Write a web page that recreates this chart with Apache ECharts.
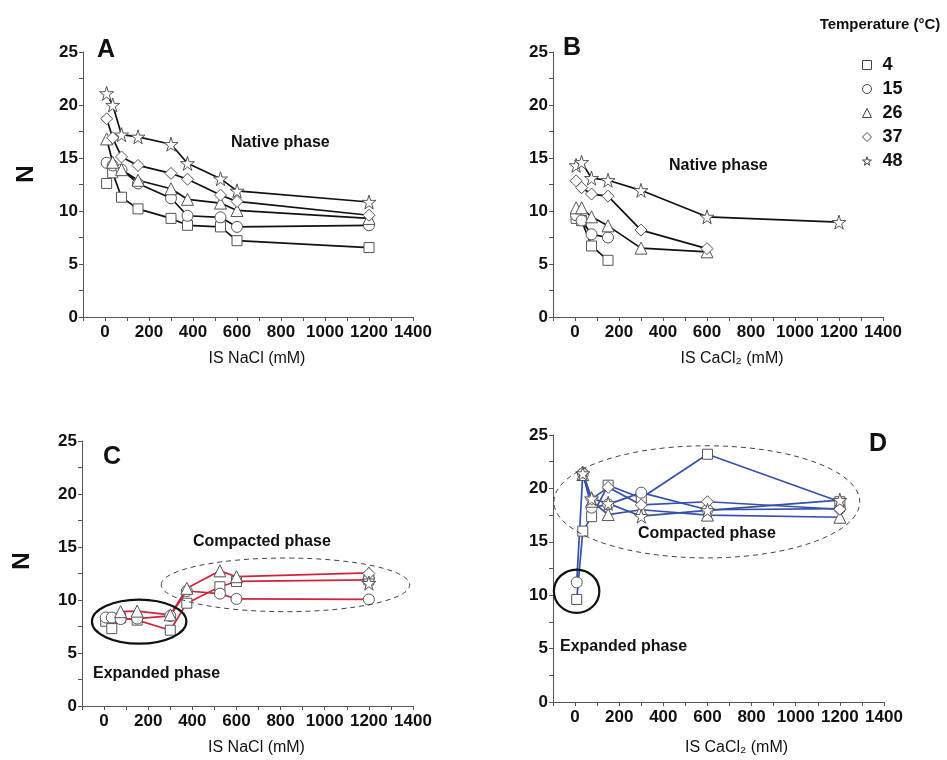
<!DOCTYPE html>
<html>
<head>
<meta charset="utf-8">
<script src="https://cdn.jsdelivr.net/npm/echarts@6/dist/echarts.min.js"></script>
<style>
  html, body { margin: 0; padding: 0; background: #fff; }
  #chart { width: 947px; height: 760px; }
</style>
</head>
<body>
<div id="chart"></div>
<script>
/* ---------------- Data ---------------- */
const tempNames = ["4", "15", "26", "37", "48"];

// panel A: NaCl, native phase
const xsA = [7.5, 35, 75, 150, 300, 375, 525, 600, 1200];
const a4  = [12.6, 13.6, 11.3, 10.2, 9.3, 8.65, 8.5, 7.2, 6.55];
const a15 = [14.55, 14.3, 13.9, 12.6, 11.2, 9.55, 9.4, 8.5, 8.65];
const a26 = [16.8, 14.6, 13.9, 12.9, 12.1, 11.1, 10.75, 10.05, 9.3];
const a37 = [18.7, 16.9, 15.1, 14.3, 13.55, 13.0, 11.5, 10.9, 9.6];
const a48 = [21.1, 20.0, 17.2, 17.0, 16.3, 14.5, 13.05, 11.9, 10.85];

// panel B: CaCl2, native phase
const xsB = [5, 30, 75, 150, 300, 600, 1200];
const b4  = [9.3, 9.1, 6.7, 5.35];
const b15 = [9.6, 9.1, 7.8, 7.5];
const b26 = [10.3, 10.3, 9.45, 8.6, 6.5, 6.15];
const b37 = [12.85, 12.2, 11.6, 11.4, 8.2, 6.45];
const b48 = [14.3, 14.6, 13.1, 12.9, 11.95, 9.45, 8.95];

// panel C: NaCl, expanded -> compacted
const xsC = [7.5, 35, 75, 150, 300, 375, 525, 600, 1200];
const c4  = [8.0, 7.3, 8.3, 8.1, 7.15, 9.7, 11.25, 11.75, 11.9];
const c15 = [8.35, 8.35, 8.2, 8.25, 8.5, 10.85, 10.6, 10.1, 10.05];
const c26 = [null, null, 8.9, 8.95, 8.6, 11.1, 12.75, 12.2, 12.55];
const c37 = [null, null, null, null, null, null, null, null, 12.5];
const c48 = [null, null, null, null, null, null, null, null, 11.6];

// panel D: CaCl2, expanded -> compacted
const xsD = [7.5, 35, 75, 150, 300, 600, 1200];
const d4  = [9.6, 16.0, 17.35, 20.3, 19.1, 23.2, 18.75];
const d15 = [11.2, 21.4, 18.2, 18.5, 19.6, 18.0, 18.1];
const d26 = [null, 21.3, 18.8, 17.55, 18.0, 17.5, 17.3];
const d37 = [null, 21.5, 19.0, 20.1, 18.45, 18.75, 18.05];
const d48 = [null, 21.4, 19.05, 18.6, 17.4, 17.95, 18.9];

// phase ellipses in data units: [grid, cx, cy, rx, ry, dashed]
const phaseEllipses = [
  [2, 159, 7.96, 214, 2.08, false],
  [2, 822, 11.43, 563, 2.53, true],
  [3, 7, 10.37, 103, 2.03, false],
  [3, 597, 18.74, 693, 5.25, true]
];

/* ---------------- Helpers ---------------- */
const FONT = "Liberation Sans, Arial, sans-serif";
const STAR = "path://M50,0 L61,35 L98,35 L68,57 L79,91 L50,70 L21,91 L32,57 L2,35 L39,35 Z";
const symbols = ["rect", "circle", "triangle", "diamond", STAR];
const symSizes = [10, 11, 12, 12, 14];

const pairs = (xs, ys) =>
  ys.map((y, i) => [xs[i], y]).filter(p => p[1] !== null && p[1] !== undefined);

function makeSeries(panel, xs, lists, lineColor) {
  return lists.map((ys, k) => ({
    name: tempNames[k],
    type: "line",
    xAxisIndex: panel,
    yAxisIndex: panel,
    data: pairs(xs, ys),
    symbol: symbols[k],
    symbolSize: symSizes[k],
    showAllSymbol: true,
    lineStyle: { color: lineColor, width: 1.7 },
    itemStyle: { color: "#fff", borderColor: "#555", borderWidth: 1 },
    emphasis: { disabled: true },
    z: 3
  }));
}

const grids = [
  { left: 83, top: 52, width: 330, height: 265 },
  { left: 553, top: 52, width: 330, height: 265 },
  { left: 82, top: 441, width: 331, height: 265 },
  { left: 553, top: 435, width: 331, height: 267 }
];

const xNames = ["IS NaCl (mM)", "IS CaCl\u2082 (mM)", "IS NaCl (mM)", "IS CaCl\u2082 (mM)"];
const xNameGaps = [34, 34, 34, 38];
const xNameShift = [18, 28, 18, 36];

const axisCommon = {
  axisLine: { show: true, onZero: false, lineStyle: { color: "#555", width: 1 } },
  axisTick: { show: true, inside: false, length: 4, lineStyle: { color: "#555" } },
  splitLine: { show: false }
};

const xAxes = grids.map((g, i) => ({
  ...axisCommon,
  type: "value",
  gridIndex: i,
  min: -100,
  max: 1400,
  interval: 100,
  name: xNames[i],
  nameLocation: "middle",
  nameGap: xNameGaps[i],
  nameTextStyle: { fontFamily: FONT, fontSize: 16, color: "#111", padding: [0, 0, 0, xNameShift[i]] },
  axisLabel: {
    fontFamily: FONT, fontWeight: "bold", fontSize: 17, color: "#111", margin: 7,
    formatter: v => (v >= 0 && v % 200 === 0 ? String(v) : "")
  }
}));

const yAxes = grids.map((g, i) => ({
  ...axisCommon,
  type: "value",
  gridIndex: i,
  min: 0,
  max: 25,
  interval: 2.5,
  axisLabel: {
    fontFamily: FONT, fontWeight: "bold", fontSize: 17, color: "#111", margin: 5,
    formatter: v => (v % 5 === 0 ? String(v) : "")
  }
}));

/* ---------------- Chart ---------------- */
const chart = echarts.init(document.getElementById("chart"), null, { renderer: "canvas" });

chart.setOption({
  animation: false,
  backgroundColor: "#fff",
  grid: grids,
  xAxis: xAxes,
  yAxis: yAxes,
  legend: {
    orient: "vertical",
    left: 857,
    top: 51,
    itemWidth: 9,
    itemHeight: 9,
    itemGap: 6,
    selectedMode: false,
    data: tempNames.map((n, k) => ({ name: n, icon: symbols[k] })),
    itemStyle: { color: "#fff", borderColor: "#444", borderWidth: 1 },
    textStyle: { fontFamily: FONT, fontWeight: "bold", fontSize: 18, color: "#111", lineHeight: 18, padding: [0, 0, 0, 6] }
  },
  series: [
    ...makeSeries(0, xsA, [a4, a15, a26, a37, a48], "#111"),
    ...makeSeries(1, xsB, [b4, b15, b26, b37, b48], "#111"),
    ...makeSeries(2, xsC, [c4, c15, c26, c37, c48], "#d2233a"),
    ...makeSeries(3, xsD, [d4, d15, d26, d37, d48], "#3550ad")
  ]
});

/* ---------------- Annotations ---------------- */
const bold = (text, x, y, size, align) => ({
  type: "text",
  x, y,
  style: {
    text, fill: "#111", font: `bold ${size}px ${FONT}`,
    textAlign: align || "left", textVerticalAlign: "middle"
  },
  z: 10
});

const ellipseGraphics = phaseEllipses.map(([gi, cx, cy, rx, ry, dashed]) => {
  const c = chart.convertToPixel({ gridIndex: gi }, [cx, cy]);
  const p = chart.convertToPixel({ gridIndex: gi }, [cx + rx, cy + ry]);
  return {
    type: "ellipse",
    shape: { cx: c[0], cy: c[1], rx: p[0] - c[0], ry: c[1] - p[1] },
    style: dashed
      ? { fill: "none", stroke: "#444", lineWidth: 1, lineDash: [5, 4] }
      : { fill: "none", stroke: "#111", lineWidth: 2.2 },
    z: 5
  };
});

chart.setOption({
  graphic: [
    bold("A", 97, 50, 25),
    bold("B", 563, 48, 25),
    bold("C", 103, 457, 25),
    bold("D", 869, 444, 25),
    {
      type: "text", x: 26, y: 174, rotation: Math.PI / 2,
      style: { text: "N", fill: "#111", font: `bold 24px ${FONT}`, textAlign: "center", textVerticalAlign: "middle" }
    },
    {
      type: "text", x: 22, y: 561, rotation: Math.PI / 2,
      style: { text: "N", fill: "#111", font: `bold 24px ${FONT}`, textAlign: "center", textVerticalAlign: "middle" }
    },
    bold("Temperature (\u00B0C)", 880, 25, 15, "center"),
    bold("Native phase", 231, 143, 16),
    bold("Native phase", 669, 166, 16),
    bold("Compacted phase", 193, 542, 16),
    bold("Expanded phase", 93, 674, 16),
    bold("Compacted phase", 638, 534, 16),
    bold("Expanded phase", 560, 647, 16),
    ...ellipseGraphics
  ]
});
</script>
</body>
</html>
